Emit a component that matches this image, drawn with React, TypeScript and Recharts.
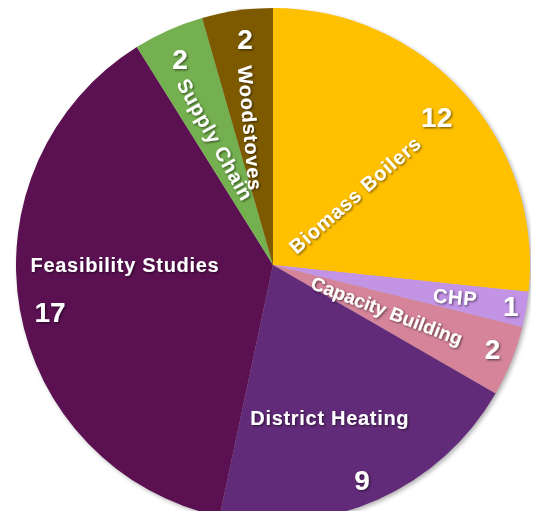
import { PieChart, Pie, Cell } from 'recharts'

const categories = [
  'Biomass Boilers',
  'CHP',
  'Capacity Building',
  'District Heating',
  'Feasibility Studies',
  'Supply Chain',
  'Woodstoves',
]
const counts = [12, 1, 2, 9, 17, 2, 2]
const colors = ['#FFC000', '#C393E6', '#D5849A', '#622B79', '#5B1052', '#74B04F', '#7D5A00']

const data = categories.map((name, i) => ({ name, value: counts[i] }))

// label placement per slice: radius fraction / angle offset (clockwise deg) / rotation
const nameLayout = [
  { r: 0.42, off: 1.5, rot: -41 },
  { r: 0.72, off: 0, rot: 5 },
  { r: 0.477, off: 0, rot: 21 },
  { r: 0.634, off: 3.6, rot: 0 },
  { r: 0.576, off: 10, rot: 0 },
  { r: 0.537, off: -0.8, rot: 61 },
  { r: 0.54, off: -1.5, rot: 85 },
]
const valueLayout = [
  { r: 0.857, off: 0 },
  { r: 0.94, off: 0 },
  { r: 0.915, off: -1 },
  { r: 0.906, off: 1.5 },
  { r: 0.887, off: -2 },
  { r: 0.876, off: -0.4 },
  { r: 0.883, off: 0.9 },
]

const RAD = Math.PI / 180
const FONT = '"Liberation Sans", Arial, sans-serif'

function polar(cx: number, cy: number, r: number, clockDeg: number) {
  const a = clockDeg * RAD
  return [cx + r * Math.sin(a), cy - r * Math.cos(a)]
}

function renderLabel(props: any) {
  const { cx, cy, midAngle, outerRadius, index, name, value } = props
  const clockMid = 90 - midAngle
  const nl = nameLayout[index]
  const vl = valueLayout[index]
  const [nx, ny] = polar(cx, cy, outerRadius * nl.r, clockMid + nl.off)
  const [vx, vy] = polar(cx, cy, outerRadius * vl.r, clockMid + vl.off)
  return (
    <g filter="url(#txtShadow)">
      <text
        x={nx}
        y={ny}
        fill="#fff"
        fontFamily={FONT}
        fontWeight="bold"
        fontSize={index === 2 ? 19 : 20}
        letterSpacing={index === 2 ? 0 : 0.7}
        textAnchor="middle"
        dominantBaseline="central"
        transform={`rotate(${nl.rot} ${nx} ${ny})`}
      >
        {name}
      </text>
      <text
        x={vx}
        y={vy}
        fill="#fff"
        fontFamily={FONT}
        fontWeight="bold"
        fontSize={28}
        textAnchor="middle"
        dominantBaseline="central"
      >
        {value}
      </text>
    </g>
  )
}

export default function App() {
  return (
    <div style={{ position: 'relative', width: 539, height: 519, margin: -8, overflow: 'hidden', background: '#fff' }}>
      <svg width={539} height={519} style={{ position: 'absolute', left: 0, top: 0 }}>
        <defs>
          <filter id="txtShadow" x="-20%" y="-20%" width="140%" height="140%">
            <feDropShadow dx="1.2" dy="1.2" stdDeviation="0.8" floodColor="#000" floodOpacity="0.55" />
          </filter>
        </defs>
        <text x={8} y={83} textAnchor="end" fontFamily={FONT} fontSize={50} fill="#000">
          t
        </text>
      </svg>
      <div style={{ position: 'absolute', left: 0, top: 0, filter: 'drop-shadow(2px 2px 2px rgba(0,0,0,0.3))' }}>
        <PieChart width={539} height={519} margin={{ top: 0, right: 0, bottom: 0, left: 0 }}>
          <Pie
            data={data}
            dataKey="value"
            nameKey="name"
            cx={273}
            cy={265}
            outerRadius={257}
            startAngle={90}
            endAngle={-270}
            stroke="none"
            label={renderLabel}
            labelLine={false}
            isAnimationActive={false}
          >
            {data.map((d, i) => (
              <Cell key={d.name} fill={colors[i]} />
            ))}
          </Pie>
        </PieChart>
      </div>
    </div>
  )
}
